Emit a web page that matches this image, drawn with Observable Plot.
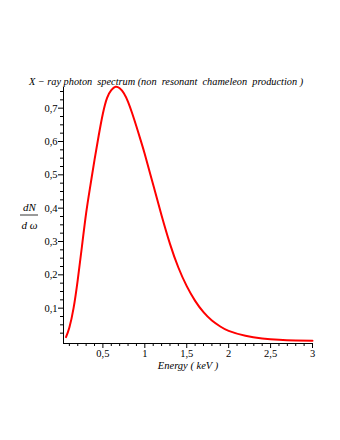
<!DOCTYPE html>
<html>
<head>
<meta charset="utf-8">
<script src="https://cdn.jsdelivr.net/npm/d3@7"></script>
<script src="https://cdn.jsdelivr.net/npm/@observablehq/plot@0.6"></script>
<style>
  html, body { margin: 0; padding: 0; background: #fff; }
  svg { display: block; }
  svg text, svg g { font-family: "Liberation Serif", "DejaVu Serif", serif !important; }
</style>
</head>
<body>
<div id="chart"></div>
<script>
const energy = [0.06, 0.10, 0.15, 0.20, 0.25, 0.30, 0.35, 0.40, 0.45, 0.50, 0.55, 0.60, 0.65, 0.70, 0.75, 0.80, 0.85, 0.90, 0.95, 1.00, 1.10, 1.20, 1.30, 1.40, 1.50, 1.60, 1.70, 1.80, 1.90, 2.00, 2.20, 2.40, 2.60, 2.80, 3.00];
const dNdw = [0.013, 0.042, 0.10, 0.185, 0.285, 0.385, 0.467, 0.545, 0.618, 0.684, 0.731, 0.754, 0.764, 0.760, 0.745, 0.719, 0.684, 0.645, 0.604, 0.562, 0.470, 0.378, 0.293, 0.222, 0.166, 0.122, 0.088, 0.063, 0.045, 0.032, 0.017, 0.009, 0.005, 0.003, 0.002];
const xMajor = [0.5, 1, 1.5, 2, 2.5, 3];
const xMinor = [0.1, 0.2, 0.3, 0.4, 0.6, 0.7, 0.8, 0.9, 1.1, 1.2, 1.3, 1.4, 1.6, 1.7, 1.8, 1.9, 2.1, 2.2, 2.3, 2.4, 2.6, 2.7, 2.8, 2.9];
const yMajor = [0.1, 0.2, 0.3, 0.4, 0.5, 0.6, 0.7];
const yMinor = [0.025, 0.05, 0.075, 0.125, 0.15, 0.175, 0.225, 0.25, 0.275, 0.325, 0.35, 0.375, 0.425, 0.45, 0.475, 0.525, 0.55, 0.575, 0.625, 0.65, 0.675, 0.725, 0.75];
const xDomain = [0.03, 3];
const yDomain = [-0.006, 0.762];
const title = "X \u2212 ray photon  spectrum (non  resonant  chameleon  production )";
const xLabel = "Energy ( keV )";

const data = energy.map((e, i) => ({e, v: dNdw[i]}));
const fmt = d => String(d).replace(".", ",");
const serif = "Liberation Serif, DejaVu Serif, serif";

const chart = Plot.plot({
  width: 340,
  height: 440,
  marginLeft: 63,
  marginRight: 28,
  marginTop: 87,
  marginBottom: 97,
  style: {fontFamily: serif, fontSize: "10px", color: "#000", background: "#fff"},
  x: {domain: xDomain},
  y: {domain: yDomain},
  marks: [
    Plot.axisX(xMajor, {tickSize: 5, tickPadding: 1, tickFormat: fmt, label: null, fontSize: 10.5}),
    Plot.axisX(xMinor, {tickSize: 3, tickFormat: () => "", label: null}),
    Plot.axisY(yMajor, {tickSize: 5, tickPadding: 1, tickFormat: fmt, label: null, fontSize: 10.5}),
    Plot.axisY(yMinor, {tickSize: 3, tickFormat: () => "", label: null}),
    Plot.ruleX([xDomain[0]], {stroke: "#000", strokeWidth: 1}),
    Plot.ruleY([yDomain[0]], {stroke: "#000", strokeWidth: 1}),
    Plot.line(data, {x: "e", y: "v", stroke: "#ff0000", strokeWidth: 2, curve: "natural"}),
    Plot.text([title], {frameAnchor: "top", textAnchor: "middle", dy: -10, dx: -22, fontStyle: "italic", fontSize: 10.3, text: d => d}),
    Plot.text([xLabel], {frameAnchor: "bottom", textAnchor: "middle", dy: 25, dx: 0, fontStyle: "italic", fontSize: 10.5, text: d => d}),
    Plot.text(["dN"], {frameAnchor: "left", textAnchor: "middle", dx: -34, dy: -8, fontStyle: "italic", fontSize: 11, text: d => d}),
    Plot.text(["d \u03c9"], {frameAnchor: "left", textAnchor: "middle", dx: -34, dy: 10, fontStyle: "italic", fontSize: 11, text: d => d})
  ]
});
document.getElementById("chart").appendChild(chart);

// fraction bar for the y label
const svg = d3.select(chart);
const yMid = (87 + (440 - 97)) / 2;
svg.append("line")
  .attr("x1", 20).attr("x2", 38)
  .attr("y1", yMid).attr("y2", yMid)
  .attr("stroke", "#000").attr("stroke-width", 0.8);
</script>
</body>
</html>
